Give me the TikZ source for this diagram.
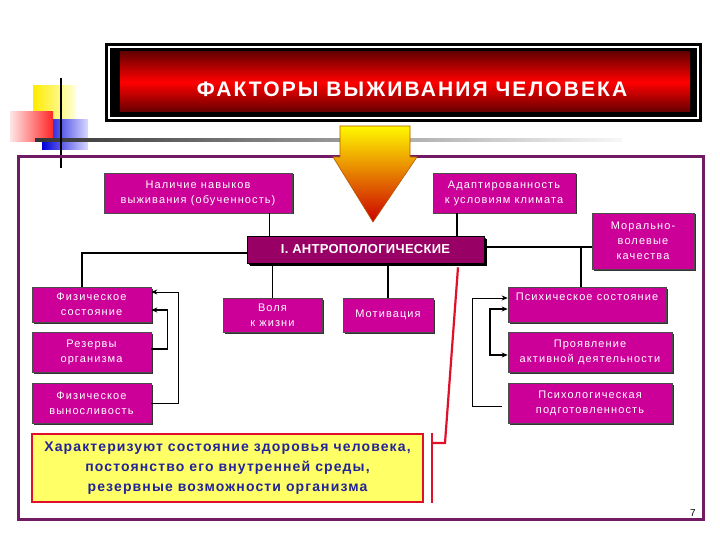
\documentclass[tikz,border=0pt]{standalone}
\usepackage{fontspec}
\setmainfont{Liberation Sans}
\usetikzlibrary{shadows,arrows.meta,calc}
\definecolor{mag}{HTML}{CC0099}
\definecolor{dmag}{HTML}{990066}
\definecolor{frm}{HTML}{701B63}
\definecolor{navy}{HTML}{24249A}
\definecolor{lyel}{HTML}{FFFF66}
\definecolor{rline}{HTML}{E0102A}
\begin{document}
\begin{tikzpicture}[x=1pt,y=-1pt,
  box/.style={draw=black!70, line width=0.6pt, fill=mag, text=white, align=center,
    inner sep=1pt, font=\fontsize{11}{15}\selectfont\addfontfeature{LetterSpace=10},
    drop shadow={shadow xshift=1.5pt,shadow yshift=-1.5pt,fill=black!80,opacity=1}},
  conn/.style={draw=black, line width=1.6pt},
  thinconn/.style={draw=black, line width=0.8pt},
  arr/.style={-{Stealth[length=6pt,width=5pt]}},
  darr/.style={{Stealth[length=6pt,width=5pt]}-{Stealth[length=6pt,width=5pt]}},
  redl/.style={draw=rline, line width=2.2pt},
]
\useasboundingbox (0,0) rectangle (720,540);
\fill[white] (0,0) rectangle (720,540);

% decorative squares
\shade[left color=yellow!85!orange, right color=yellow!15] (33,86) rectangle (76,124);
\shade[left color=blue!85!black, right color=blue!15] (42,120) rectangle (88,150);
\shade[left color=red!10, right color=red!85] (10,112) rectangle (53,142);
\shade[left color=black!80, middle color=black!45, right color=black!3] (35,138.5) rectangle (622,141.5);
\draw[black, line width=2pt] (61,78) -- (61,168);

% title
\fill[black] (105,43) rectangle (702,122);
\draw[white, line width=1.2pt] (109,47) rectangle (698,118);
\shade[top color=red!40!black, bottom color=red!40!black, middle color=red] (120,52) rectangle (690,112);
\node[text=white, font=\bfseries\fontsize{21}{24}\selectfont\addfontfeature{LetterSpace=10}] (title) at (412,89) {ФАКТОРЫ ВЫЖИВАНИЯ ЧЕЛОВЕКА};

% frame
\draw[frm, line width=3pt] (18,157) rectangle (703,519);

% arrow
\shadedraw[top color=yellow!95!orange, middle color=orange, bottom color=red!80!black, draw=orange!70!black, line width=0.6pt]
  (340,126) -- (410,126) -- (410,157) -- (417,157) -- (373,222) -- (333,157) -- (340,157) -- cycle;

% nodes
\node[box, minimum width=188pt, minimum height=40pt] (nal) at (198,193) {Наличие навыков\\выживания (обученность)};
\node[box, minimum width=142pt, minimum height=40pt] (adapt) at (504,193) {Адаптированность\\к условиям климата};
\node[box, fill=dmag, draw=black, text=white, font=\bfseries\fontsize{13}{15}\selectfont\addfontfeature{LetterSpace=2},
  minimum width=237pt, minimum height=27pt,
  drop shadow={shadow xshift=3pt,shadow yshift=-3pt,fill=black,opacity=1}] (antro) at (365.5,249.5) {I. АНТРОПОЛОГИЧЕСКИЕ};
\node[box, minimum width=102pt, minimum height=56pt] (moral) at (643,241) {Морально-\\волевые\\качества};
\node[box, minimum width=158pt, minimum height=35pt] (psych) at (587,304.5) {Психическое состояние\\[1pt]~};
\node[box, minimum width=164pt, minimum height=40pt] (proyav) at (590,352) {Проявление\\активной деятельности};
\node[box, minimum width=164pt, minimum height=40pt] (prep) at (590,403) {Психологическая\\подготовленность};
\node[box, minimum width=90pt, minimum height=34pt] (motiv) at (388,315) {Мотивация};
\node[box, minimum width=99pt, minimum height=34pt] (volya) at (272.5,315) {Воля\\к жизни};
\node[box, minimum width=119pt, minimum height=35pt] (fizsost) at (91.5,304.5) {Физическое\\состояние};
\node[box, minimum width=119pt, minimum height=40pt] (rezerv) at (91.5,352) {Резервы\\организма};
\node[box, minimum width=119pt, minimum height=40pt] (vynos) at (91.5,403) {Физическое\\выносливость};

\node[draw=rline, line width=2.2pt, fill=lyel, text=navy, align=center, inner sep=1pt,
  font=\bfseries\fontsize{14}{20}\selectfont\addfontfeature{LetterSpace=8}, minimum width=391pt, minimum height=68pt] (char) at (227.5,468)
  {Характеризуют состояние здоровья человека,\\постоянство его внутренней среды,\\резервные возможности организма};

% connectors
\coordinate (ar) at ([yshift=2.5pt]antro.east);
\draw[conn] ([xshift=-23pt]nal.south east) -- ([xshift=-23pt]nal.south east |- antro.north);
\draw[conn] ([xshift=24pt]adapt.south west) -- ([xshift=24pt]adapt.south west |- antro.north);
\draw[conn] ([yshift=-3.5pt]antro.west) -| ([xshift=50pt]fizsost.north west);
\draw[conn] (ar) -- (ar -| moral.west);
\draw[conn] ([xshift=-6pt]psych.north) -- ([xshift=-6pt]psych.north |- ar);
\draw[conn] (volya.north) -- (volya.north |- antro.south);
\draw[conn] (motiv.north) -- (motiv.north |- antro.south);

\draw[thinconn, arr] (vynos.east) -- ++(27,0) |- ([yshift=12.5pt]fizsost.east);
\draw[conn, arr] ([yshift=3pt]rezerv.east) -- ++(16,0) |- ([yshift=-5.5pt]fizsost.east);
\draw[thinconn, arr] ([xshift=-6pt,yshift=-3pt]prep.west) -- ++(-29,0) |- ([yshift=6.5pt]psych.west);
\draw[conn, darr] ([yshift=-4.5pt]psych.west) -- ++(-18,0) |- ([yshift=-3pt]proyav.west);

% red line
\coordinate (rt) at ([xshift=92.5pt,yshift=-4pt]antro.south);
\coordinate (rv) at ([xshift=8pt]char.east);
\coordinate (rb) at (445,443);
\draw[redl] (rt) -- (rb) -- (rb -| rv);
\draw[draw=rline, line width=1.6pt] ([xshift=8pt]char.north east) -- ([xshift=8pt]char.south east);

\node[font=\fontsize{10}{12}\selectfont] (pg) at (693,513) {7};
\end{tikzpicture}
\end{document}
